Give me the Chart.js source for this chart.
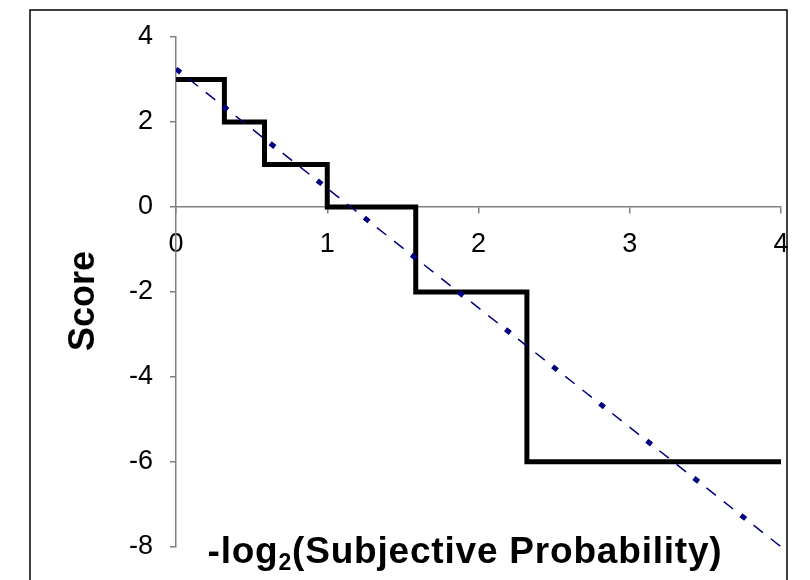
<!DOCTYPE html>
<html>
<head>
<meta charset="utf-8">
<script src="https://cdn.jsdelivr.net/npm/chart.js@4"></script>
<style>
  html, body { margin: 0; padding: 0; background: #fff; }
  canvas { display: block; }
</style>
</head>
<body>
<canvas id="scoreChart" width="810" height="580"></canvas>
<script>
// Step scoring rule vs -log2(subjective probability)
const stepX = [0, 0.32, 0.585, 1, 1.585, 2.32, 4];
const stepScore = [3, 2, 1, 0, -2, -6, -6];

// Dash-dot trend line
const trendX = [0, 4];
const trendScore = [3.25, -8];

const xTicks = [0, 1, 2, 3, 4];
const yTicks = [-8, -6, -4, -2, 0, 2, 4];

const FONT = '"Liberation Sans", Arial, sans-serif';
const NAVY = '#000080';

function toPoints(xs, ys) {
    return xs.map((x, i) => ({ x: x, y: ys[i] }));
}

// frame and axis titles drawn by hand (x title sits inside the plot in the original)
const decorations = {
    id: 'decorations',
    afterDraw(chart) {
        const ctx = chart.ctx;
        ctx.save();
        ctx.strokeStyle = '#000';
        ctx.lineWidth = 1.5;
        ctx.strokeRect(30, 10, 757, 620);

        ctx.fillStyle = '#000';
        ctx.textBaseline = 'alphabetic';
        ctx.textAlign = 'left';
        ctx.letterSpacing = '0.8px';
        const big = 'bold 37px ' + FONT;
        const small = 'bold 23px ' + FONT;
        const parts = [['-log', big, 0], ['2', small, 7], ['(Subjective Probability)', big, 0]];
        let total = 0;
        parts.forEach(p => { ctx.font = p[1]; total += ctx.measureText(p[0]).width; });
        let x = 465 - total / 2;
        parts.forEach(p => {
            ctx.font = p[1];
            ctx.fillText(p[0], x, 563 + p[2]);
            x += ctx.measureText(p[0]).width;
        });
        ctx.letterSpacing = '0px';

        ctx.translate(84, 301);
        ctx.rotate(-Math.PI / 2);
        ctx.font = 'bold 36px ' + FONT;
        ctx.textAlign = 'center';
        ctx.textBaseline = 'middle';
        ctx.fillText('Score', 0, 0);
        ctx.restore();
    }
};

document.addEventListener('DOMContentLoaded', () => {
    const ctx = document.getElementById('scoreChart').getContext('2d');
    new Chart(ctx, {
        type: 'line',
        data: {
            datasets: [{
                // square dots of the dash-dot trend
                label: 'trend dots',
                data: toPoints(trendX, trendScore),
                borderColor: NAVY,
                borderWidth: 5,
                borderDash: [6, 54],
                borderCapStyle: 'butt',
                pointRadius: 0,
                tension: 0,
                fill: false
            }, {
                // thin dashes of the same trend
                label: 'trend',
                data: toPoints(trendX, trendScore),
                borderColor: NAVY,
                borderWidth: 1.5,
                borderDash: [12, 10, 12, 26],
                borderDashOffset: 44,
                pointRadius: 0,
                tension: 0,
                fill: false
            }, {
                label: 'score',
                data: toPoints(stepX, stepScore),
                borderColor: '#000',
                borderWidth: 5,
                borderJoinStyle: 'miter',
                borderCapStyle: 'butt',
                stepped: 'before',
                pointRadius: 0,
                fill: false
            }]
        },
        options: {
            responsive: false,
            animation: false,
            layout: { padding: { left: 0, right: 29, top: 37, bottom: 18 } },
            plugins: {
                legend: { display: false },
                tooltip: { enabled: false },
                title: { display: false }
            },
            scales: {
                x: {
                    type: 'linear',
                    position: { y: 0 },
                    min: 0,
                    max: 4,
                    afterBuildTicks: (scale) => { scale.ticks = xTicks.map(v => ({ value: v })); },
                    ticks: {
                        color: '#000',
                        font: { family: FONT, size: 27 },
                        padding: 15,
                        maxRotation: 0
                    },
                    grid: { drawOnChartArea: false, drawTicks: true, tickLength: 6, color: '#808080', lineWidth: 1.5 },
                    border: { color: '#808080', width: 1.5 }
                },
                y: {
                    type: 'linear',
                    min: -8,
                    max: 4,
                    afterFit: (scale) => { scale.width = 176; },
                    afterBuildTicks: (scale) => { scale.ticks = yTicks.map(v => ({ value: v })); },
                    ticks: {
                        color: '#000',
                        font: { family: FONT, size: 27 },
                        padding: 17
                    },
                    grid: { drawOnChartArea: false, drawTicks: true, tickLength: 6, color: '#808080', lineWidth: 1.5 },
                    border: { color: '#808080', width: 1.5 }
                }
            }
        },
        plugins: [decorations]
    });
});
</script>
</body>
</html>
